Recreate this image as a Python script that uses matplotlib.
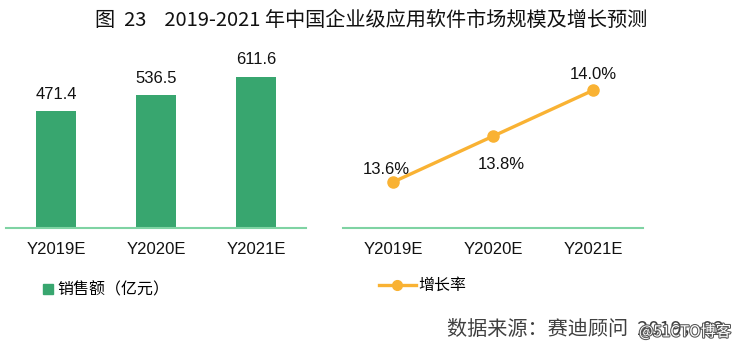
import matplotlib.pyplot as plt
import matplotlib.patheffects as pe
from matplotlib.patches import Patch
from matplotlib.lines import Line2D
import numpy as np

categories = ['Y2019E', 'Y2020E', 'Y2021E']
sales = [471.4, 536.5, 611.6]            # 亿元
growth = [13.6, 13.8, 14.0]              # %
growth_labels = ['13.6%', '13.8%', '14.0%']

title = '图  23    2019-2021 年中国企业级应用软件市场规模及增长预测'
source = '数据来源：赛迪顾问  2019，02'

green = '#38a66f'
axis_green = '#7fd3a3'
orange = '#f9b233'

plt.rcParams['font.family'] = ['Liberation Sans', 'Noto Sans CJK SC', 'DejaVu Sans']
cjk = ['Noto Sans CJK SC', 'DejaVu Sans']

fig = plt.figure(figsize=(7.43, 3.52), dpi=100)
bottom, height = 0.353, 0.533
ax1 = fig.add_axes([0.0081, bottom, 0.4037, height])
ax2 = fig.add_axes([0.4616, bottom, 0.4038, height])

x = np.arange(len(categories))

# bar chart
ax1.bar(x, sales, width=0.4, color=green)
for xi, v in zip(x, sales):
    ax1.annotate(f'{v:.1f}', (xi, v), xytext=(0, 7), textcoords='offset points',
                 ha='center', va='bottom', fontsize=12, color='#111111')
ax1.set_xlim(-0.5, 2.5)
ax1.set_ylim(0, 760)

# line chart
ax2.plot(x, growth, color=orange, lw=2.4, marker='o', markersize=8)
offsets = [(-5, 9), (6, -20), (0, 11.5)]
for xi, v, lab, off in zip(x, growth, growth_labels, offsets):
    ax2.annotate(lab, (xi, v), xytext=off, textcoords='offset points',
                 ha='center', va='center', fontsize=12, color='#111111')
ax2.set_xlim(-0.5, 2.5)
ax2.set_ylim(13.401, 14.219)

for ax in (ax1, ax2):
    for s in ['top', 'left', 'right']:
        ax.spines[s].set_visible(False)
    ax.spines['bottom'].set_color(axis_green)
    ax.spines['bottom'].set_linewidth(1.5)
    ax.set_yticks([])
    ax.set_xticks(x)
    ax.set_xticklabels(categories, fontsize=12, color='#111111')
    ax.tick_params(axis='x', length=0, pad=10)

# legends
fig.legend(handles=[Patch(color=green, label='销售额（亿元）')],
           loc='center left', bbox_to_anchor=(0.058, 0.176), frameon=False,
           handlelength=0.6, handleheight=0.6, handletextpad=0.3, borderpad=0,
           borderaxespad=0, prop={'family': cjk, 'size': 11.5})
fig.legend(handles=[Line2D([], [], color=orange, lw=2.4, marker='o', markersize=7,
                           label='增长率')],
           loc='center left', bbox_to_anchor=(0.510, 0.188), frameon=False,
           handlelength=2.3, handletextpad=0.15, borderpad=0,
           borderaxespad=0, prop={'family': cjk, 'size': 11.5})

fig.text(0.5, 0.943, title, ha='center', va='center', fontsize=14.5,
         family=cjk, color='#111111')
fig.text(0.602, 0.065, source, ha='left', va='center', fontsize=14.5,
         family=cjk, color='#404040')
fig.text(0.922, 0.057, '@51CTO博客', ha='center', va='center', fontsize=11,
         family=cjk, color='white',
         path_effects=[pe.withStroke(linewidth=1.5, foreground='#555555')])

fig.savefig('out.png', dpi=100)
